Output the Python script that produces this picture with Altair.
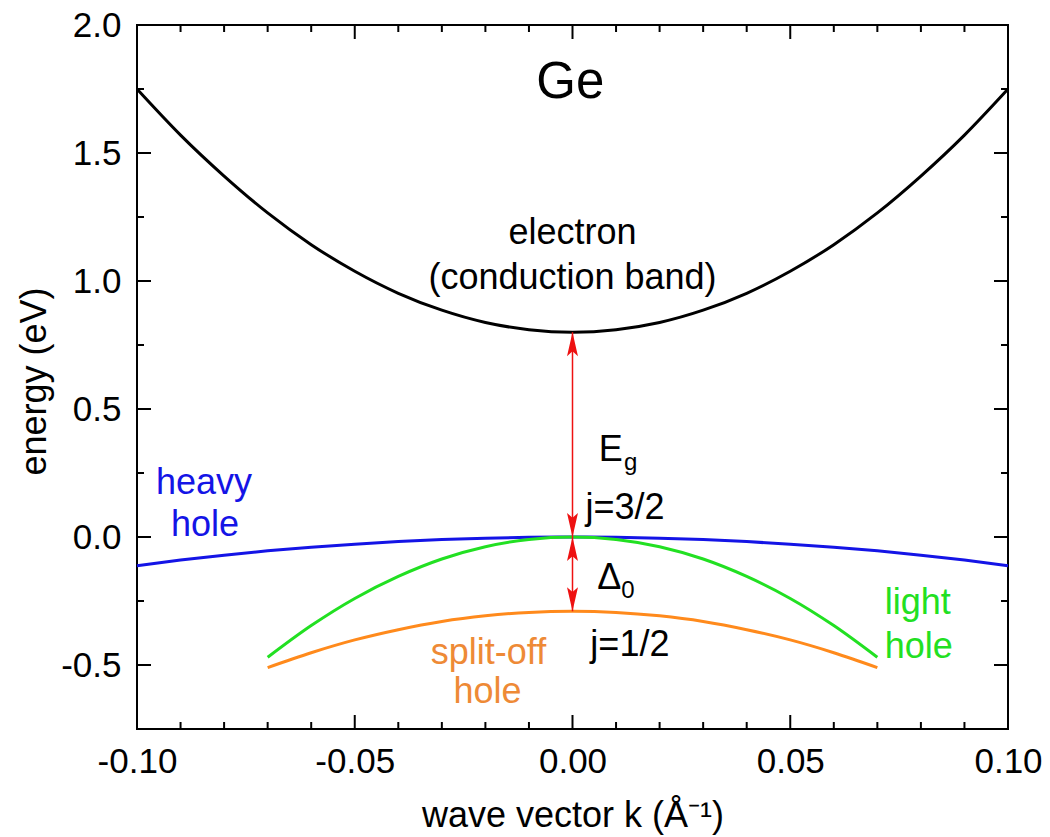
import altair as alt
import pandas as pd

# ---- data ----
k_full = [-0.10, -0.09, -0.08, -0.07, -0.06, -0.05, -0.04, -0.03, -0.02, -0.01, 0.00,
          0.01, 0.02, 0.03, 0.04, 0.05, 0.06, 0.07, 0.08, 0.09, 0.10]
E_electron = [1.75, 1.57, 1.41, 1.266, 1.142, 1.038, 0.952, 0.886, 0.838, 0.81, 0.80,
              0.81, 0.838, 0.886, 0.952, 1.038, 1.142, 1.266, 1.41, 1.57, 1.75]
E_heavy = [-0.112, -0.09, -0.071, -0.054, -0.04, -0.028, -0.018, -0.01, -0.0045, -0.0011, 0.0,
           -0.0011, -0.0045, -0.01, -0.018, -0.028, -0.04, -0.054, -0.071, -0.09, -0.112]

k_short = [-0.07, -0.06, -0.05, -0.04, -0.03, -0.02, -0.01, 0.00,
           0.01, 0.02, 0.03, 0.04, 0.05, 0.06, 0.07]
E_light = [-0.47, -0.346, -0.24, -0.154, -0.086, -0.038, -0.0096, 0.0,
           -0.0096, -0.038, -0.086, -0.154, -0.24, -0.346, -0.47]
E_split = [-0.51, -0.452, -0.402, -0.362, -0.33, -0.308, -0.2945, -0.29,
           -0.2945, -0.308, -0.33, -0.362, -0.402, -0.452, -0.51]

x_major = [-0.10, -0.05, 0.00, 0.05, 0.10]
x_minor = [-0.09, -0.08, -0.07, -0.06, -0.04, -0.03, -0.02, -0.01,
           0.01, 0.02, 0.03, 0.04, 0.06, 0.07, 0.08, 0.09]
y_major = [-0.5, 0.0, 0.5, 1.0, 1.5, 2.0]
y_minor = [-0.75, -0.25, 0.25, 0.75, 1.25, 1.75]

gap_top = [0.80]      # conduction band minimum
gap_mid = [0.00]      # valence band maximum
gap_bot = [-0.29]     # split-off maximum

bands = ["electron", "heavy", "light", "split"]
band_colors = ["#000000", "#1414E6", "#22E022", "#FF8A1C"]

FONT = "Liberation Sans"
W, H = 871, 704

# ---- tables ----
rows = []
for k, e in zip(k_full, E_electron):
    rows.append({"band": "electron", "k": k, "E": e})
for k, e in zip(k_full, E_heavy):
    rows.append({"band": "heavy", "k": k, "E": e})
for k, e in zip(k_short, E_light):
    rows.append({"band": "light", "k": k, "E": e})
for k, e in zip(k_short, E_split):
    rows.append({"band": "split", "k": k, "E": e})
curves = pd.DataFrame(rows)

xs = alt.Scale(domain=[-0.10, 0.10], nice=False, zero=False)
ys = alt.Scale(domain=[-0.75, 2.0], nice=False, zero=False)

x_axis = alt.Axis(values=x_major, labelExpr="replace(format(datum.value, '.2f'), '\u2212', '-')",
                  grid=False, ticks=False, tickSize=0, domain=False, labelPadding=15,
                  labelFlush=False, labelOverlap=False,
                  labelFontSize=35, labelFont=FONT, labelColor="black",
                  title="wave vector k (Å\u207b\u00b9)", titleFont=FONT, titleFontSize=36,
                  titleFontWeight="normal", titleColor="black",
                  titleX=W / 2, titleY=97, titleBaseline="alphabetic", titleAlign="center")
y_axis = alt.Axis(values=y_major, labelExpr="replace(format(datum.value, '.1f'), '\u2212', '-')",
                  grid=False, ticks=False, tickSize=0, domain=False, labelPadding=16,
                  labelFlush=False, labelOverlap=False,
                  labelFontSize=35, labelFont=FONT, labelColor="black",
                  title="energy (eV)", titleFont=FONT, titleFontSize=36,
                  titleFontWeight="normal", titleColor="black",
                  titleX=-103, titleY=356, titleAngle=270, titleBaseline="middle",
                  titleAlign="center")

X = alt.X("k:Q", scale=xs, axis=x_axis)
Y = alt.Y("E:Q", scale=ys, axis=y_axis)

lines = alt.Chart(curves).mark_line(strokeWidth=3, interpolate="monotone").encode(
    x=X, y=Y,
    color=alt.Color("band:N", scale=alt.Scale(domain=bands, range=band_colors), legend=None),
    detail="band:N",
)

# ---- inside ticks (box frame) ----
def xticks(vals, length):
    df = pd.DataFrame({"k": vals})
    bot = alt.Chart(df).mark_rule(color="black", strokeWidth=2).encode(
        x=X, y=alt.value(H), y2=alt.value(H - length))
    top = alt.Chart(df).mark_rule(color="black", strokeWidth=2).encode(
        x=X, y=alt.value(0), y2=alt.value(length))
    return [bot, top]

def yticks(vals, length):
    df = pd.DataFrame({"E": vals})
    left = alt.Chart(df).mark_rule(color="black", strokeWidth=2).encode(
        y=Y, x=alt.value(0), x2=alt.value(length))
    right = alt.Chart(df).mark_rule(color="black", strokeWidth=2).encode(
        y=Y, x=alt.value(W), x2=alt.value(W - length))
    return [left, right]

tick_layers = xticks(x_major, 14) + xticks(x_minor, 7) + yticks(y_major, 14) + yticks(y_minor, 7)

# ---- red double arrows ----
RED = "#EE1111"
arrow_df = pd.DataFrame({"k": [0.0], "E": gap_top, "E2": gap_bot})
arrow_line = alt.Chart(arrow_df).mark_rule(color=RED, strokeWidth=1.5).encode(
    x=X, y=Y, y2="E2:Q")
up_df = pd.DataFrame({"k": [0.0, 0.0], "E": gap_top + gap_mid})
dn_df = pd.DataFrame({"k": [0.0, 0.0], "E": gap_mid + gap_bot})
head_up = alt.Chart(up_df).mark_point(
    shape="M0,0L0.5,2.2L0,1.75L-0.5,2.2Z", size=480, filled=True, color=RED, opacity=1,
    strokeWidth=0).encode(x=X, y=Y)
head_dn = alt.Chart(dn_df).mark_point(
    shape="M0,0L0.5,-2.2L0,-1.75L-0.5,-2.2Z", size=480, filled=True, color=RED, opacity=1,
    strokeWidth=0).encode(x=X, y=Y)

# ---- text annotations ----
def label(text, k, e, color="black", size=36, align="center"):
    df = pd.DataFrame({"t": [text], "k": [k], "E": [e]})
    return alt.Chart(df).mark_text(font=FONT, fontSize=size, color=color, align=align,
                                   baseline="alphabetic").encode(x=X, y=Y, text="t:N")

BLUE_T = "#1414E6"
GREEN_T = "#22E022"
ORANGE_T = "#EE8A36"
texts = [
    label("Ge", -0.0005, 1.715, size=51),
    label("electron", 0.0, 1.145),
    label("(conduction band)", 0.0, 0.969),
    label("heavy", -0.0846, 0.168, color=BLUE_T),
    label("hole", -0.0844, 0.004, color=BLUE_T),
    label("light", 0.0793, -0.301, color=GREEN_T),
    label("hole", 0.0795, -0.473, color=GREEN_T),
    label("split-off", -0.0193, -0.496, color=ORANGE_T),
    label("hole", -0.0195, -0.648, color=ORANGE_T),
    label("j=3/2", 0.003, 0.070, align="left"),
    label("j=1/2", 0.0041, -0.465, align="left"),
    label("E", 0.006, 0.297, align="left"),
    label("g", 0.0118, 0.262, size=24, align="left"),
    label("\u0394", 0.0057, -0.203, align="left"),
    label("0", 0.0112, -0.238, size=24, align="left"),
]

chart = alt.layer(lines, *tick_layers, arrow_line, head_up, head_dn, *texts).properties(
    width=W, height=H,
    autosize=alt.AutoSizeParams(type="none"),
    padding={"left": 137, "top": 25, "right": 1050 - 137 - W, "bottom": 837 - 25 - H},
    background="white",
).configure_view(stroke="black", strokeWidth=2)

chart.save("out.html", embed_options={"renderer": "svg", "actions": False})
